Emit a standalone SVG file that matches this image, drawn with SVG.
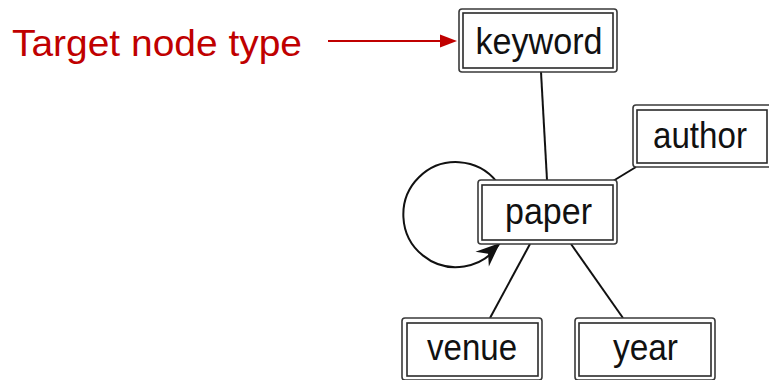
<svg xmlns="http://www.w3.org/2000/svg" width="769" height="380" viewBox="0 0 769 380">
  <style>
    .outer { fill: #ffffff; stroke: #3a3a3a; stroke-width: 1.6; }
    .inner { fill: none; stroke: #2a2a2a; stroke-width: 1.6; }
    .label { font-family: "Liberation Sans", Arial, Helvetica, sans-serif; font-size: 37px; fill: #111111; text-anchor: middle; }
    .edge { stroke: #111111; stroke-width: 2; fill: none; }
    .callout { font-family: "Liberation Sans", Arial, sans-serif; font-size: 36px; fill: #c00000; }
  </style>
  <defs>
    <marker id="loopHead" markerUnits="userSpaceOnUse" viewBox="-26 -12 28 24" refX="0" refY="0" markerWidth="28" markerHeight="24" orient="-42">
      <path d="M0,0 L-24,-10 L-16,0 L-24,10 Z" fill="#111111"/>
    </marker>
  </defs>

  <!-- connectors -->
  <g id="connectors">
    <line class="edge" x1="541" y1="72" x2="547" y2="180"/>
    <line class="edge" x1="636" y1="167" x2="613" y2="181"/>
    <line class="edge" x1="530" y1="244" x2="490" y2="318"/>
    <line class="edge" x1="571" y1="244" x2="623" y2="318"/>
    <path class="edge" d="M497,182 A52.5,52.5 0 1 0 500,243" marker-end="url(#loopHead)"/>
  </g>

  <!-- callout pointing at the target node -->
  <g id="callout">
    <text class="callout" x="12" y="56" textLength="290" lengthAdjust="spacingAndGlyphs">Target node type</text>
    <line x1="328" y1="41" x2="444" y2="41" stroke="#c00000" stroke-width="2"/>
    <polygon points="457,41 440,34.5 440,47.5" fill="#c00000"/>
  </g>

  <g id="node-keyword">
    <rect class="outer" x="459" y="9" width="158" height="63" rx="3"/>
    <rect class="inner" x="463" y="13" width="150" height="55"/>
    <text class="label" x="539" y="54" textLength="127" lengthAdjust="spacingAndGlyphs">keyword</text>
  </g>

  <g id="node-author">
    <rect class="outer" x="633" y="105" width="140" height="62" rx="3"/>
    <rect class="inner" x="637" y="110" width="130" height="53"/>
    <text class="label" x="700" y="148" textLength="94" lengthAdjust="spacingAndGlyphs">author</text>
  </g>

  <g id="node-paper">
    <rect class="outer" x="478" y="180" width="139" height="64" rx="3"/>
    <rect class="inner" x="482" y="185" width="131" height="55"/>
    <text class="label" x="548.5" y="224" textLength="87" lengthAdjust="spacingAndGlyphs">paper</text>
  </g>

  <g id="node-venue">
    <rect class="outer" x="402" y="318" width="140" height="62" rx="3"/>
    <rect class="inner" x="407" y="323" width="131" height="53"/>
    <text class="label" x="472" y="360" textLength="90" lengthAdjust="spacingAndGlyphs">venue</text>
  </g>

  <g id="node-year">
    <rect class="outer" x="575" y="318" width="140" height="62" rx="3"/>
    <rect class="inner" x="579" y="323" width="132" height="53"/>
    <text class="label" x="645.5" y="360" textLength="65" lengthAdjust="spacingAndGlyphs">year</text>
  </g>
</svg>
